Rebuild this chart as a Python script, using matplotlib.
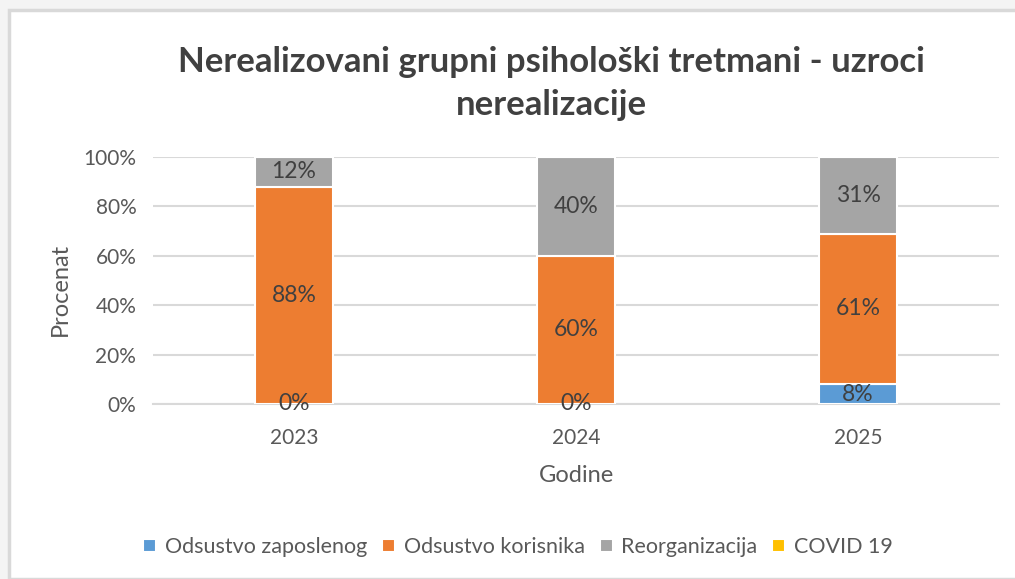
import numpy as np
import matplotlib.pyplot as plt
from matplotlib.patches import Rectangle

plt.rcParams['font.family'] = ['Lato', 'DejaVu Sans']

# Data
years = ['2023', '2024', '2025']
series = ['Odsustvo zaposlenog', 'Odsustvo korisnika', 'Reorganizacija', 'COVID 19']
odsustvo_zaposlenog = [0, 0, 8]
odsustvo_korisnika = [88, 60, 61]
reorganizacija = [12, 40, 31]
covid = [0, 0, 0]
colors = ['#5b9bd5', '#ed7d31', '#a5a5a5', '#ffc000']

W, H = 1015, 579
fig = plt.figure(figsize=(W / 100, H / 100), dpi=100)
fig.patch.set_facecolor('#f4f4f4')
# white chart area with thin border (screenshot frame)
fig.patches.append(Rectangle((9 / W, 0), 1, 1 - 10 / H, transform=fig.transFigure,
                             facecolor='white', edgecolor='#d9d9d9', linewidth=2.5, zorder=-10))

ax = fig.add_axes([153 / W, 1 - 404 / H, (999 - 153) / W, (404 - 157) / H])
ax.set_facecolor('none')

x = np.arange(len(years))
values = [odsustvo_zaposlenog, odsustvo_korisnika, reorganizacija, covid]
bottom = np.zeros(len(years))
for name, vals, col in zip(series, values, colors):
    vals = np.array(vals, dtype=float)
    ax.bar(x, vals / 100, 0.28, bottom=bottom / 100, color=col, edgecolor='white',
           linewidth=1.5, label=name, zorder=3)
    if name != 'COVID 19':
        for xi, v, b in zip(x, vals, bottom):
            if v == 0 and name != 'Odsustvo zaposlenog':
                continue
            ax.text(xi, (b + v / 2) / 100, f'{int(v)}%', ha='center', va='center',
                    fontsize=16.5, color='#404040', zorder=4)
    bottom += vals

ax.set_xlim(-0.5, 2.5)
ax.set_ylim(0, 1)
ax.set_yticks(np.arange(0, 1.01, 0.2))
ax.set_yticklabels([f'{int(round(t * 100))}%' for t in np.arange(0, 1.01, 0.2)])
ax.set_xticks(x)
ax.set_xticklabels(years)
ax.tick_params(length=0, labelsize=15, colors='#595959')
ax.tick_params(axis='y', pad=12)
ax.tick_params(axis='x', pad=17)
ax.grid(axis='y', color='#d9d9d9', linewidth=1.5, zorder=0)
for s in ['top', 'right', 'left']:
    ax.spines[s].set_visible(False)
ax.spines['bottom'].set_color('#d9d9d9')
ax.spines['bottom'].set_linewidth(1.5)

ax.set_ylabel('Procenat', fontsize=17, color='#595959')
ax.set_xlabel('Godine', fontsize=17, color='#595959')
ax.yaxis.set_label_coords(60 / W, 0.5, transform=fig.transFigure)
ax.xaxis.set_label_coords(576 / W, 1 - 475 / H, transform=fig.transFigure)
ax.yaxis.label.set_va('center')
ax.xaxis.label.set_va('center')

fig.text(551 / W, 1 - 62 / H, 'Nerealizovani grupni psihološki tretmani - uzroci',
         ha='center', va='center', fontsize=25, fontweight='bold', color='#404040')
fig.text(551 / W, 1 - 105 / H, 'nerealizacije',
         ha='center', va='center', fontsize=25, fontweight='bold', color='#404040')

ax.legend(loc='center', bbox_to_anchor=(518 / W, 1 - 547 / H), bbox_transform=fig.transFigure,
          ncol=4, frameon=False, fontsize=15.5, handlelength=0.6, handleheight=0.6,
          handletextpad=0.4, columnspacing=0.7, labelcolor='#595959')

fig.savefig('out.png', dpi=100, facecolor=fig.get_facecolor())
